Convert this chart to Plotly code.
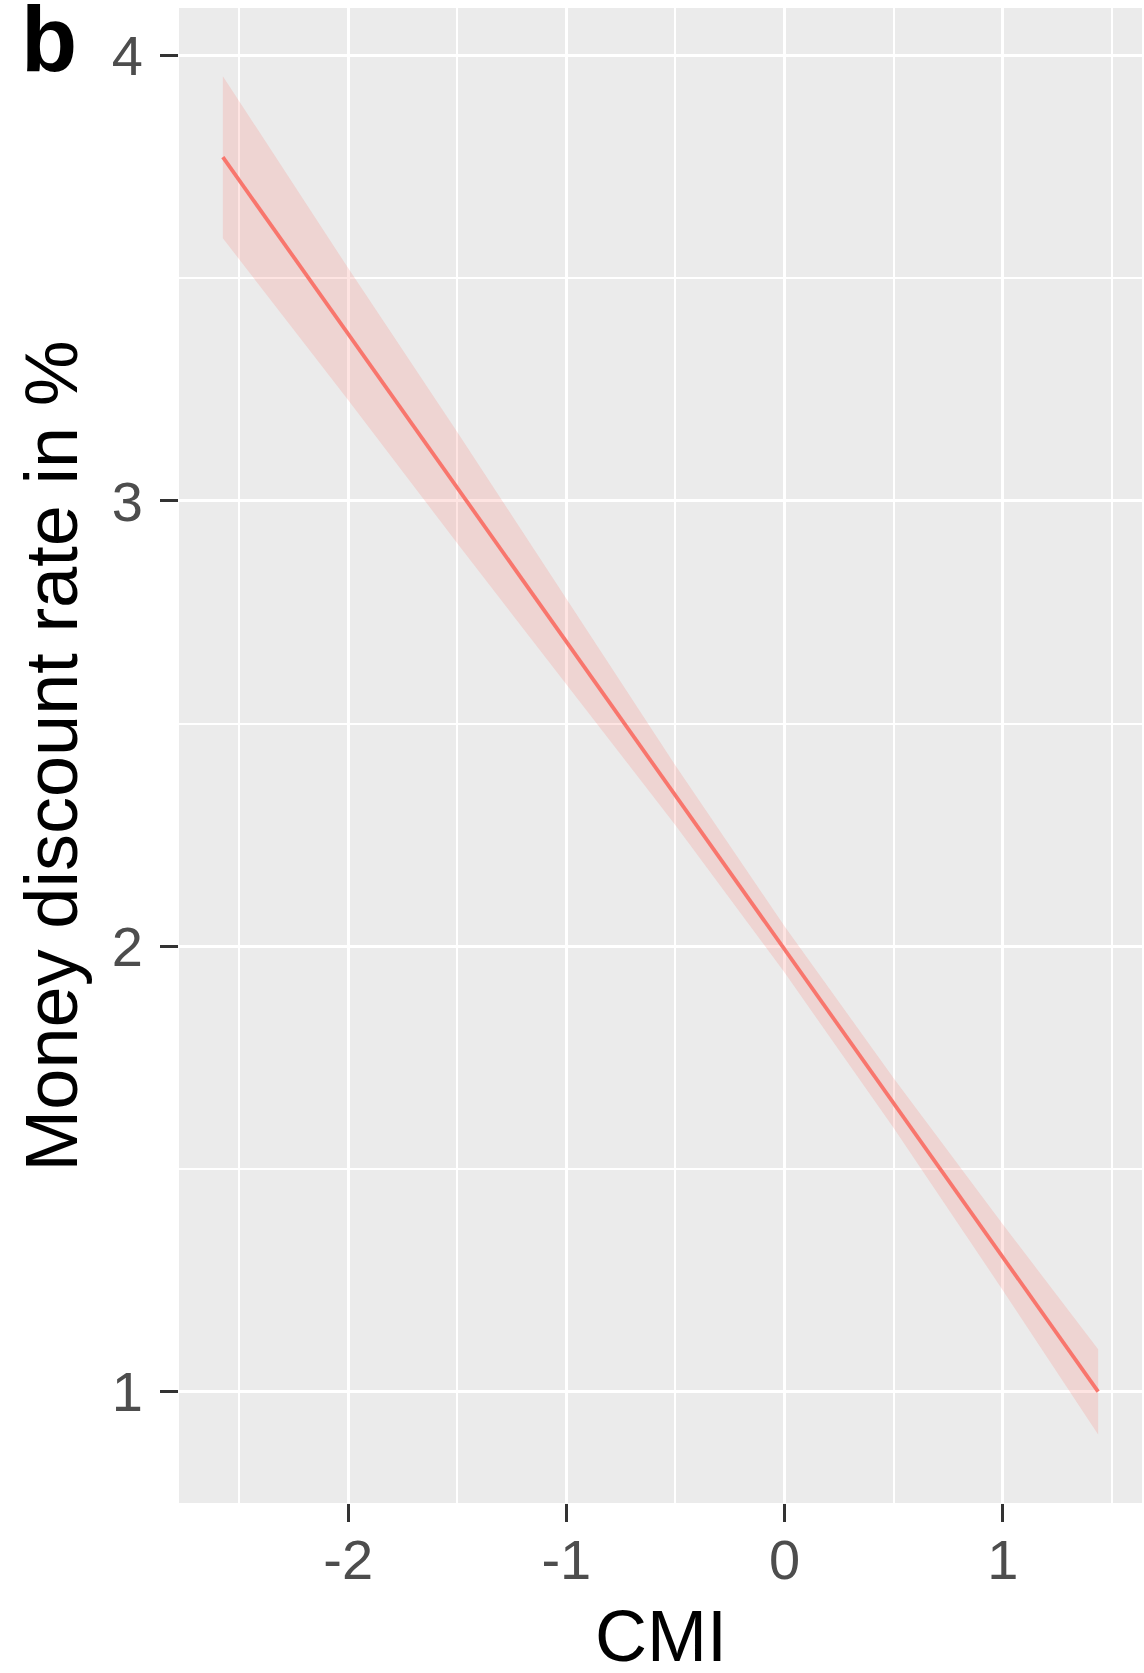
import plotly.graph_objects as go

# Linear fit of money discount rate on CMI, with its confidence band
cmi = [-2.574, -2.0, -1.5, -1.0, -0.5, 0.0, 0.5, 1.0, 1.437]
rate_fit = [3.772, 3.375, 3.030, 2.684, 2.339, 1.993, 1.648, 1.302, 1.000]
rate_upper = [3.954, 3.523, 3.155, 2.779, 2.406, 2.045, 1.704, 1.376, 1.095]
rate_lower = [3.590, 3.227, 2.905, 2.589, 2.272, 1.941, 1.592, 1.228, 0.904]

x_ticks = [-2, -1, 0, 1]
y_ticks = [1, 2, 3, 4]

LINE = "#F8766D"
FONT = "Liberation Sans, Arial, sans-serif"

fig = go.Figure()

fig.add_trace(go.Scatter(
    x=cmi, y=rate_lower, mode="lines", line=dict(width=0, color=LINE),
    showlegend=False, hoverinfo="skip",
))
fig.add_trace(go.Scatter(
    x=cmi, y=rate_upper, mode="lines", line=dict(width=0, color=LINE),
    fill="tonexty", fillcolor="rgba(248,118,109,0.2)",
    showlegend=False, hoverinfo="skip",
))
fig.add_trace(go.Scatter(
    x=cmi, y=rate_fit, mode="lines", line=dict(width=3.8, color=LINE),
    showlegend=False,
))

axis_common = dict(
    showline=False, zeroline=False,
    gridcolor="white", gridwidth=3.4,
    ticks="outside", ticklen=18, tickwidth=3.4, tickcolor="#333333",
    tickfont=dict(family=FONT, size=56, color="#4D4D4D"),
)

fig.update_xaxes(
    range=[-2.775, 1.638], tickvals=x_ticks,
    ticktext=[str(v) for v in x_ticks],
    minor=dict(showgrid=True, dtick=0.5, tick0=0, gridcolor="white", gridwidth=1.8),
    ticklabelstandoff=-10,
    **axis_common,
)
fig.update_yaxes(
    range=[0.75, 4.107], tickvals=y_ticks,
    ticktext=[str(v) for v in y_ticks],
    minor=dict(showgrid=True, dtick=0.5, tick0=0, gridcolor="white", gridwidth=1.8),
    ticklabelstandoff=6,
    **axis_common,
)

fig.add_annotation(
    text="CMI", xref="paper", yref="paper", x=0.5, y=-0.089,
    xanchor="center", yanchor="middle", showarrow=False,
    font=dict(family=FONT, size=72, color="black"),
)
fig.add_annotation(
    text="Money discount rate in %", xref="paper", yref="paper",
    x=-0.132, y=0.5, textangle=-90,
    xanchor="center", yanchor="middle", showarrow=False,
    font=dict(family=FONT, size=74, color="black"),
)
fig.add_annotation(
    text="<b>b</b>", xref="paper", yref="paper", x=-0.166, y=0.979,
    xanchor="left", yanchor="middle", showarrow=False,
    font=dict(family=FONT, size=92, color="black"),
)

fig.update_layout(
    width=1144, height=1673,
    margin=dict(l=179, r=2, t=8, b=170),
    plot_bgcolor="#EBEBEB", paper_bgcolor="white",
    showlegend=False,
)

fig.write_html("out.html")
